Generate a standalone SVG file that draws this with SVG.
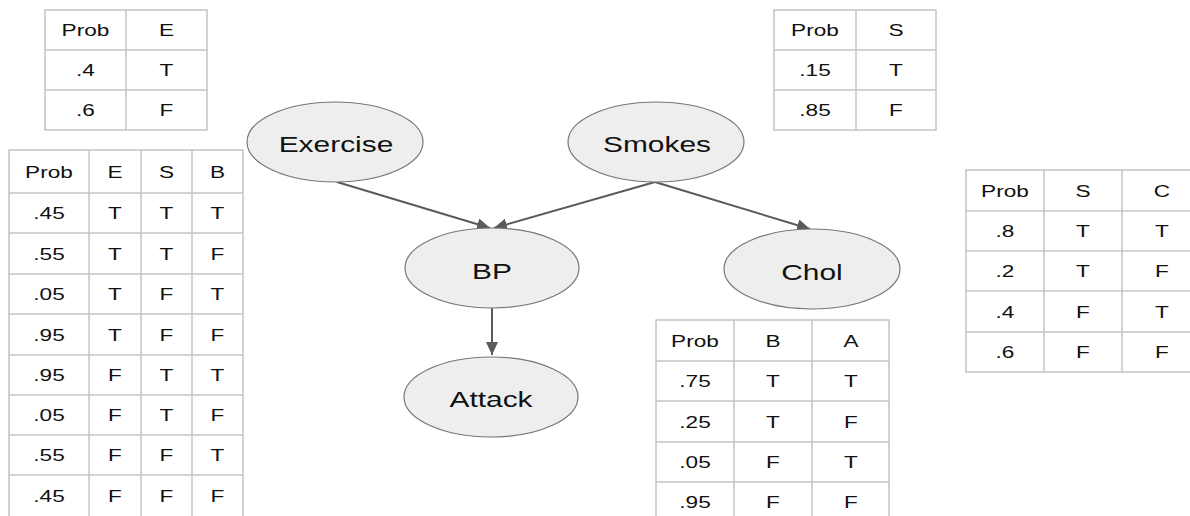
<svg xmlns="http://www.w3.org/2000/svg" width="1190" height="516" viewBox="0 0 1190 516">
<style>
.tb{fill:#fff;stroke:#c4c4c4;stroke-width:1.5}
.gl{stroke:#c4c4c4;stroke-width:1.5}
.tt{font-family:"Liberation Sans",Arial,sans-serif;font-size:17px;fill:#111;text-anchor:middle}
.nd{fill:#eeeeee;stroke:#777;stroke-width:1.2}
.nt{font-family:"Liberation Sans",Arial,sans-serif;font-size:22.5px;fill:#111;text-anchor:middle}
.cn{stroke:#5a5a5a;stroke-width:2;fill:none}
</style>
<defs>
<marker id="ah" markerUnits="userSpaceOnUse" markerWidth="14" markerHeight="12" refX="13" refY="6" orient="auto">
<path d="M0,0 L13,6 L0,12 Z" fill="#5a5a5a"/>
</marker>
</defs>
<rect width="1190" height="516" fill="#fff"/>

<g id="connectors">
<line class="cn" x1="337" y1="182" x2="490" y2="228" marker-end="url(#ah)"/>
<line class="cn" x1="655" y1="182" x2="494" y2="228" marker-end="url(#ah)"/>
<line class="cn" x1="655" y1="182" x2="810" y2="229" marker-end="url(#ah)"/>
<line class="cn" x1="492" y1="308" x2="492" y2="355" marker-end="url(#ah)"/>
</g>

<g id="node-exercise"><ellipse class="nd" cx="335" cy="142" rx="88" ry="40"/><text class="nt" transform="matrix(1.33 0 0 1 336 152)">Exercise</text></g>
<g id="node-smokes"><ellipse class="nd" cx="656" cy="142" rx="88" ry="40"/><text class="nt" transform="matrix(1.33 0 0 1 657 152)">Smokes</text></g>
<g id="node-bp"><ellipse class="nd" cx="492" cy="268" rx="87" ry="40"/><text class="nt" transform="matrix(1.33 0 0 1 492 279)">BP</text></g>
<g id="node-chol"><ellipse class="nd" cx="812" cy="269" rx="88" ry="40"/><text class="nt" transform="matrix(1.33 0 0 1 812 280)">Chol</text></g>
<g id="node-attack"><ellipse class="nd" cx="491" cy="397" rx="87" ry="40"/><text class="nt" transform="matrix(1.33 0 0 1 491 407)">Attack</text></g>

<g id="table-e">
<rect class="tb" x="45" y="10" width="162" height="120"/>
<line class="gl" x1="45" y1="50" x2="207" y2="50"/><line class="gl" x1="45" y1="90" x2="207" y2="90"/>
<line class="gl" x1="126" y1="10" x2="126" y2="130"/>
<text class="tt" transform="matrix(1.33 0 0 1 85.5 36)">Prob</text><text class="tt" transform="matrix(1.33 0 0 1 166.5 36)">E</text>
<text class="tt" transform="matrix(1.33 0 0 1 85.5 76)">.4</text><text class="tt" transform="matrix(1.33 0 0 1 166.5 76)">T</text>
<text class="tt" transform="matrix(1.33 0 0 1 85.5 116)">.6</text><text class="tt" transform="matrix(1.33 0 0 1 166.5 116)">F</text>
</g>

<g id="table-s">
<rect class="tb" x="774" y="10" width="162" height="120"/>
<line class="gl" x1="774" y1="50" x2="936" y2="50"/><line class="gl" x1="774" y1="90" x2="936" y2="90"/>
<line class="gl" x1="856" y1="10" x2="856" y2="130"/>
<text class="tt" transform="matrix(1.33 0 0 1 815 36)">Prob</text><text class="tt" transform="matrix(1.33 0 0 1 896 36)">S</text>
<text class="tt" transform="matrix(1.33 0 0 1 815 76)">.15</text><text class="tt" transform="matrix(1.33 0 0 1 896 76)">T</text>
<text class="tt" transform="matrix(1.33 0 0 1 815 116)">.85</text><text class="tt" transform="matrix(1.33 0 0 1 896 116)">F</text>
</g>

<g id="table-bp">
<rect class="tb" x="9" y="150" width="234" height="368"/>
<line class="gl" x1="9" y1="193" x2="243" y2="193"/>
<line class="gl" x1="9" y1="233" x2="243" y2="233"/>
<line class="gl" x1="9" y1="274" x2="243" y2="274"/>
<line class="gl" x1="9" y1="314" x2="243" y2="314"/>
<line class="gl" x1="9" y1="355" x2="243" y2="355"/>
<line class="gl" x1="9" y1="395" x2="243" y2="395"/>
<line class="gl" x1="9" y1="435" x2="243" y2="435"/>
<line class="gl" x1="9" y1="475" x2="243" y2="475"/>
<line class="gl" x1="89" y1="150" x2="89" y2="518"/>
<line class="gl" x1="141" y1="150" x2="141" y2="518"/>
<line class="gl" x1="192" y1="150" x2="192" y2="518"/>
<text class="tt" transform="matrix(1.33 0 0 1 49 177.5)">Prob</text><text class="tt" transform="matrix(1.33 0 0 1 115 177.5)">E</text><text class="tt" transform="matrix(1.33 0 0 1 166.5 177.5)">S</text><text class="tt" transform="matrix(1.33 0 0 1 217.5 177.5)">B</text>
<text class="tt" transform="matrix(1.33 0 0 1 49 219)">.45</text><text class="tt" transform="matrix(1.33 0 0 1 115 219)">T</text><text class="tt" transform="matrix(1.33 0 0 1 166.5 219)">T</text><text class="tt" transform="matrix(1.33 0 0 1 217.5 219)">T</text>
<text class="tt" transform="matrix(1.33 0 0 1 49 259.5)">.55</text><text class="tt" transform="matrix(1.33 0 0 1 115 259.5)">T</text><text class="tt" transform="matrix(1.33 0 0 1 166.5 259.5)">T</text><text class="tt" transform="matrix(1.33 0 0 1 217.5 259.5)">F</text>
<text class="tt" transform="matrix(1.33 0 0 1 49 300)">.05</text><text class="tt" transform="matrix(1.33 0 0 1 115 300)">T</text><text class="tt" transform="matrix(1.33 0 0 1 166.5 300)">F</text><text class="tt" transform="matrix(1.33 0 0 1 217.5 300)">T</text>
<text class="tt" transform="matrix(1.33 0 0 1 49 340.5)">.95</text><text class="tt" transform="matrix(1.33 0 0 1 115 340.5)">T</text><text class="tt" transform="matrix(1.33 0 0 1 166.5 340.5)">F</text><text class="tt" transform="matrix(1.33 0 0 1 217.5 340.5)">F</text>
<text class="tt" transform="matrix(1.33 0 0 1 49 381)">.95</text><text class="tt" transform="matrix(1.33 0 0 1 115 381)">F</text><text class="tt" transform="matrix(1.33 0 0 1 166.5 381)">T</text><text class="tt" transform="matrix(1.33 0 0 1 217.5 381)">T</text>
<text class="tt" transform="matrix(1.33 0 0 1 49 421)">.05</text><text class="tt" transform="matrix(1.33 0 0 1 115 421)">F</text><text class="tt" transform="matrix(1.33 0 0 1 166.5 421)">T</text><text class="tt" transform="matrix(1.33 0 0 1 217.5 421)">F</text>
<text class="tt" transform="matrix(1.33 0 0 1 49 461)">.55</text><text class="tt" transform="matrix(1.33 0 0 1 115 461)">F</text><text class="tt" transform="matrix(1.33 0 0 1 166.5 461)">F</text><text class="tt" transform="matrix(1.33 0 0 1 217.5 461)">T</text>
<text class="tt" transform="matrix(1.33 0 0 1 49 501.5)">.45</text><text class="tt" transform="matrix(1.33 0 0 1 115 501.5)">F</text><text class="tt" transform="matrix(1.33 0 0 1 166.5 501.5)">F</text><text class="tt" transform="matrix(1.33 0 0 1 217.5 501.5)">F</text>
</g>

<g id="table-c">
<rect class="tb" x="966" y="170" width="234" height="202"/>
<line class="gl" x1="966" y1="211" x2="1200" y2="211"/>
<line class="gl" x1="966" y1="251" x2="1200" y2="251"/>
<line class="gl" x1="966" y1="291" x2="1200" y2="291"/>
<line class="gl" x1="966" y1="332" x2="1200" y2="332"/>
<line class="gl" x1="1044" y1="170" x2="1044" y2="372"/>
<line class="gl" x1="1122" y1="170" x2="1122" y2="372"/>
<text class="tt" transform="matrix(1.33 0 0 1 1005 196.5)">Prob</text><text class="tt" transform="matrix(1.33 0 0 1 1083 196.5)">S</text><text class="tt" transform="matrix(1.33 0 0 1 1162 196.5)">C</text>
<text class="tt" transform="matrix(1.33 0 0 1 1005 237)">.8</text><text class="tt" transform="matrix(1.33 0 0 1 1083 237)">T</text><text class="tt" transform="matrix(1.33 0 0 1 1162 237)">T</text>
<text class="tt" transform="matrix(1.33 0 0 1 1005 277)">.2</text><text class="tt" transform="matrix(1.33 0 0 1 1083 277)">T</text><text class="tt" transform="matrix(1.33 0 0 1 1162 277)">F</text>
<text class="tt" transform="matrix(1.33 0 0 1 1005 317.5)">.4</text><text class="tt" transform="matrix(1.33 0 0 1 1083 317.5)">F</text><text class="tt" transform="matrix(1.33 0 0 1 1162 317.5)">T</text>
<text class="tt" transform="matrix(1.33 0 0 1 1005 358)">.6</text><text class="tt" transform="matrix(1.33 0 0 1 1083 358)">F</text><text class="tt" transform="matrix(1.33 0 0 1 1162 358)">F</text>
</g>

<g id="table-a">
<rect class="tb" x="656" y="320" width="233" height="202"/>
<line class="gl" x1="656" y1="361" x2="889" y2="361"/>
<line class="gl" x1="656" y1="401" x2="889" y2="401"/>
<line class="gl" x1="656" y1="442" x2="889" y2="442"/>
<line class="gl" x1="656" y1="482" x2="889" y2="482"/>
<line class="gl" x1="734" y1="320" x2="734" y2="522"/>
<line class="gl" x1="812" y1="320" x2="812" y2="522"/>
<text class="tt" transform="matrix(1.33 0 0 1 695 346.5)">Prob</text><text class="tt" transform="matrix(1.33 0 0 1 773 346.5)">B</text><text class="tt" transform="matrix(1.33 0 0 1 851 346.5)">A</text>
<text class="tt" transform="matrix(1.33 0 0 1 695 387)">.75</text><text class="tt" transform="matrix(1.33 0 0 1 773 387)">T</text><text class="tt" transform="matrix(1.33 0 0 1 851 387)">T</text>
<text class="tt" transform="matrix(1.33 0 0 1 695 427.5)">.25</text><text class="tt" transform="matrix(1.33 0 0 1 773 427.5)">T</text><text class="tt" transform="matrix(1.33 0 0 1 851 427.5)">F</text>
<text class="tt" transform="matrix(1.33 0 0 1 695 468)">.05</text><text class="tt" transform="matrix(1.33 0 0 1 773 468)">F</text><text class="tt" transform="matrix(1.33 0 0 1 851 468)">T</text>
<text class="tt" transform="matrix(1.33 0 0 1 695 508)">.95</text><text class="tt" transform="matrix(1.33 0 0 1 773 508)">F</text><text class="tt" transform="matrix(1.33 0 0 1 851 508)">F</text>
</g>
</svg>
